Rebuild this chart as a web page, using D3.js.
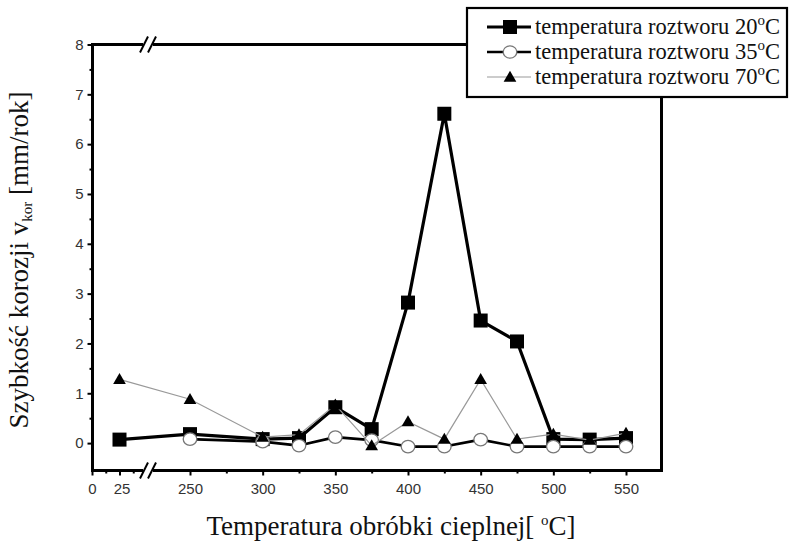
<!DOCTYPE html>
<html>
<head>
<meta charset="utf-8">
<script src="https://cdn.jsdelivr.net/npm/d3@7"></script>
<style>
body { margin: 0; background: #fff; }
.tick text { font-family: "Liberation Sans", Arial, sans-serif; font-size: 15px; fill: #333; }
.serif { font-family: "Liberation Serif", "Times New Roman", serif; fill: #111; }
</style>
</head>
<body>
<svg id="chart" width="790" height="542"></svg>
<script>
var temps = [25, 250, 300, 325, 350, 375, 400, 425, 450, 475, 500, 525, 550]
var v20 = [0.07, 0.18, 0.08, 0.1, 0.72, 0.28, 2.82, 6.61, 2.46, 2.04, 0.08, 0.07, 0.1]
var temps35 = [250, 300, 325, 350, 375, 400, 425, 450, 475, 500, 525, 550]
var v35 = [0.08, 0.03, -0.05, 0.12, 0.06, -0.07, -0.07, 0.07, -0.07, -0.07, -0.07, -0.07]
var v70 = [1.28, 0.88, 0.12, 0.17, 0.77, -0.05, 0.43, 0.08, 1.28, 0.08, 0.18, 0.06, 0.2]
var yTicks = [0, 1, 2, 3, 4, 5, 6, 7, 8]
var xTicksLeft = [0, 25]
var xTicksRight = [250, 300, 350, 400, 450, 500, 550]
var legendLabels = ["20", "35", "70"]

var svg = d3.select("#chart")

var xLeft = d3.scaleLinear().domain([0, 25]).range([92, 119.5])
var xRight = d3.scaleLinear().domain([250, 550]).range([190, 626])
function xPos(t) { return t < 200 ? xLeft(t) : xRight(t) }
var y = d3.scaleLinear().domain([-0.55, 8]).range([470.5, 44.5])

var plotL = 92.5, plotR = 661.5, plotT = y(8), plotB = y(-0.55), breakX = 148

// frame
svg.append("path")
    .attr("d", "M" + plotL + "," + plotT + "V" + plotB + "H" + plotR + "V" + 97)
    .style("fill", "none").style("stroke", "#000").style("stroke-width", 3)
svg.append("line")
    .attr("x1", plotL - 1.5).attr("x2", 468).attr("y1", plotT).attr("y2", plotT)
    .style("stroke", "#000").style("stroke-width", 3)

// y axis
var yAxis = svg.append("g").attr("transform", "translate(" + plotL + ",0)")
    .call(d3.axisLeft(y).tickValues(yTicks).tickSize(5).tickPadding(4))
yAxis.select(".domain").remove()
yAxis.selectAll(".tick line").style("stroke-width", 2)
svg.append("g").attr("transform", "translate(" + plotL + ",0)")
    .call(d3.axisLeft(y).tickValues(d3.range(0.5, 8, 1)).tickSize(3).tickFormat(""))
    .call(function(g) { g.select(".domain").remove() })
    .selectAll(".tick line").style("stroke-width", 2)

// x axis, in two pieces around the break
var xAxisL = svg.append("g").attr("transform", "translate(0," + plotB + ")")
    .call(d3.axisBottom(xLeft).tickValues(xTicksLeft).tickSize(5).tickPadding(8))
var xAxisR = svg.append("g").attr("transform", "translate(0," + plotB + ")")
    .call(d3.axisBottom(xRight).tickValues(xTicksRight).tickSize(5).tickPadding(8))
svg.append("g").attr("transform", "translate(0," + plotB + ")")
    .call(d3.axisBottom(xLeft).tickValues([12.5, 37.5]).tickSize(3).tickFormat(""))
    .call(function(g) { g.select(".domain").remove() })
    .selectAll(".tick line").style("stroke-width", 2)
svg.append("g").attr("transform", "translate(0," + plotB + ")")
    .call(d3.axisBottom(xRight).tickValues([275, 325, 375, 425, 475, 525]).tickSize(3).tickFormat(""))
    .call(function(g) { g.select(".domain").remove() })
    .selectAll(".tick line").style("stroke-width", 2)
xAxisL.select(".domain").remove()
xAxisR.select(".domain").remove()
xAxisL.selectAll(".tick line").style("stroke-width", 2)
xAxisR.selectAll(".tick line").style("stroke-width", 2)
xAxisL.selectAll(".tick text").attr("dx", function(d) { return d == 0 ? 0 : 2 })

// break marks
;[plotT, plotB].forEach(function(yy) {
    svg.append("rect").attr("x", breakX - 5).attr("y", yy - 3).attr("width", 10).attr("height", 6)
        .style("fill", "#fff")
    ;[-4, 4].forEach(function(off) {
        svg.append("line")
            .attr("x1", breakX + off - 4).attr("y1", yy + 8)
            .attr("x2", breakX + off + 4).attr("y2", yy - 8)
            .style("stroke", "#000").style("stroke-width", 2)
    })
})

// series
var pts20 = temps.map(function(t, i) { return [t, v20[i]] })
var pts35 = temps35.map(function(t, i) { return [t, v35[i]] })
var pts70 = temps.map(function(t, i) { return [t, v70[i]] })
var line = d3.line().x(function(d) { return xPos(d[0]) }).y(function(d) { return y(d[1]) })

svg.append("path").datum(pts20).attr("d", line)
    .style("fill", "none").style("stroke", "#000").style("stroke-width", 3.2).style("stroke-linejoin", "round")
svg.selectAll(".sq").data(pts20).enter().append("rect")
    .attr("x", function(d) { return xPos(d[0]) - 7 }).attr("y", function(d) { return y(d[1]) - 7 })
    .attr("width", 14).attr("height", 14).style("fill", "#000")

svg.append("path").datum(pts35).attr("d", line)
    .style("fill", "none").style("stroke", "#000").style("stroke-width", 2.6).style("stroke-linejoin", "round")
svg.selectAll(".ci").data(pts35).enter().append("ellipse")
    .attr("cx", function(d) { return xPos(d[0]) }).attr("cy", function(d) { return y(d[1]) })
    .attr("rx", 6.8).attr("ry", 6.2)
    .style("fill", "#fff").style("stroke", "#777").style("stroke-width", 1.3)

var tri = d3.symbol().type(d3.symbolTriangle).size(70)
svg.append("path").datum(pts70).attr("d", line)
    .style("fill", "none").style("stroke", "#999").style("stroke-width", 1.2)
svg.selectAll(".tr").data(pts70).enter().append("path")
    .attr("d", tri)
    .attr("transform", function(d) { return "translate(" + xPos(d[0]) + "," + (y(d[1]) + 1) + ")" })
    .style("fill", "#000")

// legend
var lg = svg.append("g")
lg.append("rect").attr("x", 467).attr("y", 8).attr("width", 320).attr("height", 89)
    .style("fill", "#fff").style("stroke", "#000").style("stroke-width", 2.2)
legendLabels.forEach(function(lab, i) {
    var ly = 27 + i * 25
    lg.append("line").attr("x1", 487).attr("x2", 531).attr("y1", ly).attr("y2", ly)
        .style("stroke", i == 2 ? "#999" : "#000").style("stroke-width", i == 0 ? 3.2 : i == 1 ? 2.6 : 1.2)
    if (i == 0) {
        lg.append("rect").attr("x", 503).attr("y", ly - 7).attr("width", 14).attr("height", 14).style("fill", "#000")
    } else if (i == 1) {
        lg.append("ellipse").attr("cx", 510).attr("cy", ly).attr("rx", 6.8).attr("ry", 6.2)
            .style("fill", "#fff").style("stroke", "#777").style("stroke-width", 1.3)
    } else {
        lg.append("path").attr("d", tri).attr("transform", "translate(510," + (ly + 1) + ")").style("fill", "#000")
    }
    var t = lg.append("text").attr("class", "serif").attr("x", 535).attr("y", ly + 7).style("font-size", "22.5px")
    t.append("tspan").text("temperatura roztworu " + lab)
    t.append("tspan").attr("dy", -9).style("font-size", "15px").text("o")
    t.append("tspan").attr("dy", 9).text("C")
})

// axis titles
var yt = svg.append("text").attr("class", "serif")
    .attr("transform", "translate(28,260) rotate(-90)")
    .attr("text-anchor", "middle").style("font-size", "27px")
yt.append("tspan").text("Szybkość korozji v")
yt.append("tspan").attr("dy", 4).style("font-size", "15px").text("kor")
yt.append("tspan").attr("dy", -4).text(" [mm/rok]")

var xt = svg.append("text").attr("class", "serif")
    .attr("x", 391).attr("y", 535).attr("text-anchor", "middle").style("font-size", "27px")
xt.append("tspan").text("Temperatura obróbki cieplnej[ ")
xt.append("tspan").attr("dy", -10).style("font-size", "15px").text("o")
xt.append("tspan").attr("dy", 10).text("C]")
</script>
</body>
</html>
